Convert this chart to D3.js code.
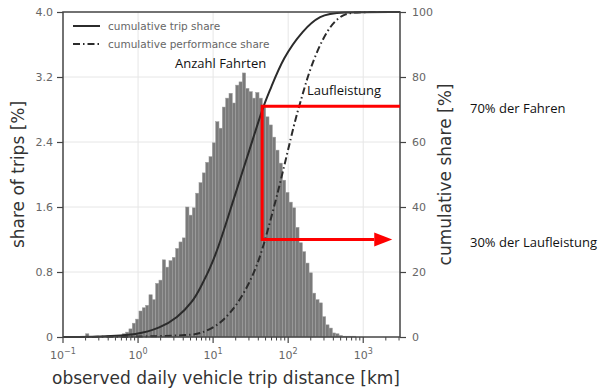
<!DOCTYPE html>
<html>
<head>
<meta charset="utf-8">
<script src="https://cdn.jsdelivr.net/npm/d3@7"></script>
<style>
  body { margin: 0; background: #fff; }
  svg { display: block; }
</style>
</head>
<body>
<script>
// histogram: log-spaced bins, share of trips [%]
const binStartLog = -0.744
const binsPerDecade = 22.5
const tripShares = [
  0, 0.04, 0, 0, 0, 0, 0, 0, 0, 0,
  0.01, 0.02, 0.04, 0.06, 0.10, 0.17, 0.22, 0.32, 0.36, 0.39,
  0.52, 0.46, 0.66, 0.70, 0.95, 0.86, 0.94, 0.98, 1.09, 1.17,
  1.22, 1.60, 1.50, 1.59, 1.77, 1.90, 2.02, 2.15, 2.22, 2.39,
  2.65, 2.57, 2.83, 2.94, 3.00, 2.88, 3.10, 3.14, 3.25, 3.06,
  3.02, 2.94, 3.01, 2.94, 2.83, 2.71, 2.61, 2.46, 2.30, 2.14,
  1.93, 1.78, 1.66, 1.59, 1.35, 1.16, 1.05, 0.91, 0.79, 0.54,
  0.46, 0.42, 0.25, 0.15, 0.11, 0.05, 0.04, 0.02, 0.01, 0.01,
  0.01, 0.01
]

// cumulative curves
const tripKm = [0.1, 0.31, 1.0, 1.96, 3.31, 5.41, 6.7, 9.1, 12.4, 18.5, 31, 46.4, 57.5, 85.8, 158, 267, 450, 3090]
const tripCum = [0, 0.1, 0.7, 2.8, 5.8, 11, 15, 21, 29, 42, 58, 71, 76, 86, 94.5, 99, 100, 100]
const perfKm = [0.1, 1.45, 4.9, 6.7, 12.4, 23, 38.6, 52.5, 78, 124, 145, 196, 331, 541, 912, 3090]
const perfCum = [0, 0.1, 0.6, 1, 3.7, 11, 21.5, 32, 47, 67, 72, 83, 95, 99.7, 100, 100]

// annotation
const markKm = 45
const markTrip = 71
const markPerf = 30

const leftTicks = [0, 0.8, 1.6, 2.4, 3.2, 4.0]
const rightTicks = [0, 20, 40, 60, 80, 100]
const decades = [-1, 0, 1, 2, 3]

const width = 601
const height = 392
const m = { left: 63, right: 400, top: 12, bottom: 337 }

const svg = d3.select('body').append('svg').attr('width', width).attr('height', height)

const x = d3.scaleLog().domain([0.1, Math.pow(10, 3.49)]).range([m.left, m.right])
const y = d3.scaleLinear().domain([0, 4]).range([m.bottom, m.top])
const y2 = d3.scaleLinear().domain([0, 100]).range([m.bottom, m.top])

const tickFont = 'DejaVu Sans, sans-serif'
const gray = '#666'

// grid
const grid = svg.append('g').attr('stroke', '#e6e6e6').attr('stroke-width', 1)
grid.selectAll('.gy').data(leftTicks.slice(1, -1)).enter().append('line')
  .attr('x1', m.left).attr('x2', m.right)
  .attr('y1', (d) => y(d)).attr('y2', (d) => y(d))
grid.selectAll('.gx').data(decades.slice(1)).enter().append('line')
  .attr('x1', (d) => x(Math.pow(10, d))).attr('x2', (d) => x(Math.pow(10, d)))
  .attr('y1', m.top).attr('y2', m.bottom)

// bars
const bins = tripShares.map((v, i) => ({
  x0: Math.pow(10, binStartLog + i / binsPerDecade),
  x1: Math.pow(10, binStartLog + (i + 1) / binsPerDecade),
  v,
}))
svg.append('g').selectAll('rect').data(bins.filter((d) => d.v > 0)).enter().append('rect')
  .attr('x', (d) => x(d.x0))
  .attr('width', (d) => x(d.x1) - x(d.x0))
  .attr('y', (d) => y(d.v))
  .attr('height', (d) => y(0) - y(d.v))
  .attr('fill', '#7a7a7a')
  .attr('stroke', '#a0a0a0')
  .attr('stroke-width', 0.5)

// curves
const line = d3.line().x((d) => x(d[0])).y((d) => y2(d[1])).curve(d3.curveBasis)
svg.append('path')
  .attr('d', line(d3.zip(tripKm, tripCum)))
  .attr('fill', 'none').attr('stroke', '#2b2b2b').attr('stroke-width', 2)
svg.append('path')
  .attr('d', line(d3.zip(perfKm, perfCum)))
  .attr('fill', 'none').attr('stroke', '#2b2b2b').attr('stroke-width', 2)
  .attr('stroke-dasharray', '7,3,1.5,3')

// spines
svg.append('rect')
  .attr('x', m.left).attr('y', m.top)
  .attr('width', m.right - m.left).attr('height', m.bottom - m.top)
  .attr('fill', 'none').attr('stroke', '#444').attr('stroke-width', 1.5)

// left axis
const yAxis = svg.append('g').attr('transform', `translate(${m.left},0)`)
  .call(d3.axisLeft(y).tickValues(leftTicks).tickFormat((d) => (d === 0 ? '0' : d3.format('.1f')(d))).tickSize(6).tickPadding(4))
yAxis.select('.domain').remove()
yAxis.selectAll('line').attr('stroke', '#444').attr('stroke-width', 1.2)
yAxis.selectAll('text').attr('fill', gray).style('font-family', tickFont).style('font-size', '11px')

// right axis
const y2Axis = svg.append('g').attr('transform', `translate(${m.right},0)`)
  .call(d3.axisRight(y2).tickValues(rightTicks).tickSize(6).tickPadding(6))
y2Axis.select('.domain').remove()
y2Axis.selectAll('line').attr('stroke', '#444').attr('stroke-width', 1.2)
y2Axis.selectAll('text').attr('fill', gray).style('font-family', tickFont).style('font-size', '11px')

// bottom axis: decades + minor ticks
const minor = []
decades.forEach((d) => {
  for (let k = 2; k <= 9; k++) {
    const v = k * Math.pow(10, d)
    if (v < x.domain()[1]) minor.push(v)
  }
})
const xAxis = svg.append('g').attr('transform', `translate(0,${m.bottom})`)
xAxis.selectAll('.minor').data(minor).enter().append('line')
  .attr('x1', (d) => x(d)).attr('x2', (d) => x(d))
  .attr('y1', 0).attr('y2', 3.5)
  .attr('stroke', '#444').attr('stroke-width', 1)
xAxis.selectAll('.major').data(decades).enter().append('line')
  .attr('x1', (d) => x(Math.pow(10, d))).attr('x2', (d) => x(Math.pow(10, d)))
  .attr('y1', 0).attr('y2', 6)
  .attr('stroke', '#444').attr('stroke-width', 1.2)
const xl = xAxis.selectAll('.lab').data(decades).enter().append('text')
  .attr('x', (d) => x(Math.pow(10, d)))
  .attr('y', 22)
  .attr('text-anchor', 'middle')
  .attr('fill', gray)
  .style('font-family', tickFont)
  .style('font-size', '11px')
xl.append('tspan').text('10')
xl.append('tspan').attr('dy', -5).style('font-size', '8px').text((d) => (d < 0 ? '\u2212' + -d : d))

// axis titles
const titleStyle = (s) => s.attr('fill', '#333').style('font-family', tickFont).style('font-size', '17px').attr('text-anchor', 'middle')
svg.append('text').attr('transform', `translate(24,${(m.top + m.bottom) / 2}) rotate(-90)`).text('share of trips [%]').call(titleStyle)
svg.append('text').attr('transform', `translate(451,${(m.top + m.bottom) / 2}) rotate(-90)`).text('cumulative share [%]').call(titleStyle)
svg.append('text').attr('x', 226).attr('y', 384).text('observed daily vehicle trip distance [km]').call(titleStyle)

// legend
const legend = svg.append('g').attr('transform', `translate(${m.left + 10},${m.top + 14})`)
const legendItems = [
  { label: 'cumulative trip share', dash: null },
  { label: 'cumulative performance share', dash: '7,3,1.5,3' },
]
legendItems.forEach((d, i) => {
  legend.append('line')
    .attr('x1', 0).attr('x2', 27).attr('y1', i * 18).attr('y2', i * 18)
    .attr('stroke', '#2b2b2b').attr('stroke-width', 2)
    .attr('stroke-dasharray', d.dash)
  legend.append('text')
    .attr('x', 35).attr('y', i * 18 + 4)
    .attr('fill', gray)
    .style('font-family', tickFont).style('font-size', '10.5px')
    .text(d.label)
})

// red annotation
const red = '#ff0000'
const mx = x(markKm)
svg.append('path')
  .attr('d', `M${m.right},${y2(markTrip)}H${mx}V${y2(markPerf)}H${x(1000) + 11}`)
  .attr('fill', 'none').attr('stroke', red).attr('stroke-width', 3)
svg.append('path')
  .attr('d', `M${x(1000) + 11},${y2(markPerf) - 7}L${x(1000) + 29},${y2(markPerf)}L${x(1000) + 11},${y2(markPerf) + 7}Z`)
  .attr('fill', red)

// annotation texts
const noteStyle = (s) => s.attr('fill', '#111').style('font-family', 'Open Sans, sans-serif').style('font-size', '13px')
svg.append('text').attr('x', 175).attr('y', 68).text('Anzahl Fahrten').call(noteStyle)
svg.append('text').attr('x', 307).attr('y', 95).text('Laufleistung').call(noteStyle)
svg.append('text').attr('x', 470).attr('y', 113).text('70% der Fahren').call(noteStyle)
svg.append('text').attr('x', 470).attr('y', 247).text('30% der Laufleistung').call(noteStyle)
</script>
</body>
</html>
